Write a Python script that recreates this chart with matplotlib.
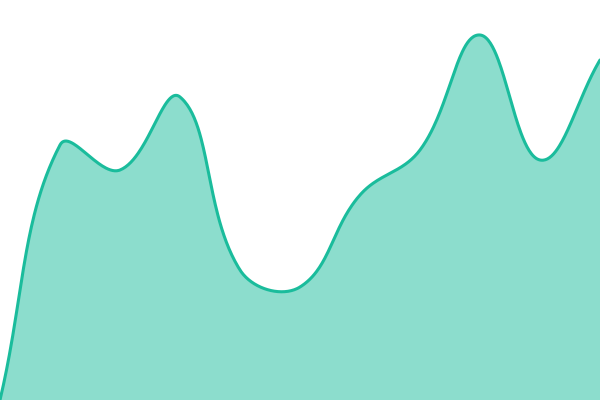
import numpy as np
import matplotlib
matplotlib.use("Agg")
import matplotlib.pyplot as plt

# data
categories = list(range(11))
values = [0, 255, 230, 303, 130, 113, 205, 250, 365, 240, 340]

line_color = "#1abc9c"
tension = 0.4


def spline_path(px, py, t=tension, n=60):
    """Chart.js-style tension spline, computed in pixel space."""
    pts = np.column_stack([px, py]).astype(float)
    m = len(pts)
    cps_prev = np.zeros_like(pts)
    cps_next = np.zeros_like(pts)
    for i in range(m):
        prev = pts[i - 1] if i > 0 else pts[i]
        cur = pts[i]
        nxt = pts[i + 1] if i < m - 1 else pts[i]
        d01 = np.hypot(*(cur - prev))
        d12 = np.hypot(*(nxt - cur))
        tot = d01 + d12
        s01 = d01 / tot if tot else 0
        s12 = d12 / tot if tot else 0
        cps_prev[i] = cur - t * s01 * (nxt - prev)
        cps_next[i] = cur + t * s12 * (nxt - prev)
    tt = np.linspace(0, 1, n)[:, None]
    out = []
    for i in range(m - 1):
        p0, c1, c2, p3 = pts[i], cps_next[i], cps_prev[i + 1], pts[i + 1]
        b = (1 - tt) ** 3 * p0 + 3 * (1 - tt) ** 2 * tt * c1 + 3 * (1 - tt) * tt ** 2 * c2 + tt ** 3 * p3
        out.append(b)
    out = np.vstack(out)
    return out[:, 0], out[:, 1]


fig = plt.figure(figsize=(6, 4), dpi=100)
ax = fig.add_axes([0, 0, 1, 1])
ax.set_xlim(categories[0], categories[-1])
ax.set_ylim(0, 400)
ax.axis("off")

disp = ax.transData.transform(np.column_stack([categories, values]))
sx, sy = spline_path(disp[:, 0], disp[:, 1])
data = ax.transData.inverted().transform(np.column_stack([sx, sy]))
dx, dy = data[:, 0], data[:, 1]

ax.fill_between(dx, dy, 0, color=line_color, alpha=0.5, linewidth=0)
ax.plot(dx, dy, color=line_color, linewidth=2.2, solid_capstyle="round")
ax.set_xlim(categories[0], categories[-1])
ax.set_ylim(0, 400)
fig.savefig("out.png", dpi=100)
